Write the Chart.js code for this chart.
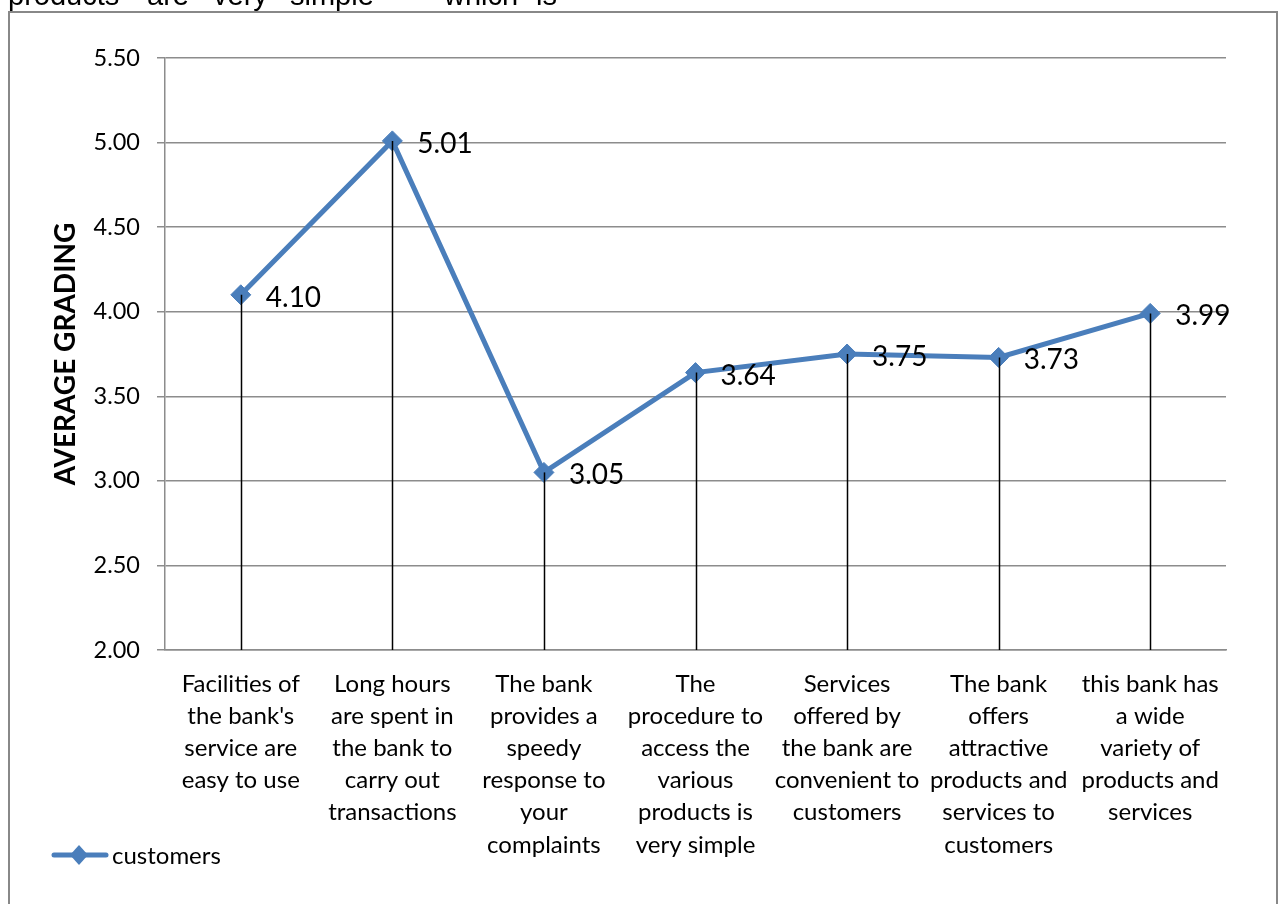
<!DOCTYPE html>
<html>
<head>
<meta charset="utf-8">
<script src="https://cdn.jsdelivr.net/npm/chart.js@4"></script>
<style>
    html, body { margin: 0; padding: 0; background: #fff; }
    #wrap { position: relative; width: 1279px; height: 904px; }
</style>
</head>
<body>
<div id="wrap"><canvas id="chart"></canvas></div>
<script>
const categories = [
    ["Facilities of", "the bank's", "service are", "easy to use"],
    ["Long hours", "are spent in", "the bank to", "carry out", "transactions"],
    ["The bank", "provides a", "speedy", "response to", "your", "complaints"],
    ["The", "procedure to", "access the", "various", "products is", "very simple"],
    ["Services", "offered by", "the bank are", "convenient to", "customers"],
    ["The bank", "offers", "attractive", "products and", "services to", "customers"],
    ["this bank has", "a wide", "variety of", "products and", "services"]
];
const customers = [4.10, 5.01, 3.05, 3.64, 3.75, 3.73, 3.99];
const seriesName = "customers";
const yTitle = "AVERAGE GRADING";
// justified body text line running above the chart box
const headerWords = ["products", "are", "very", "simple", "which", "is"];
const headerX = [8, 147, 213, 290, 444, 536];

const FONT = "Lato, 'Open Sans', sans-serif";
const BLUE = "#4a7ebb";
const GRID = "#8c8c8c";

// frame, header text, axis title, drop lines, value labels, legend
const extras = {
    id: "extras",
    afterDatasetsDraw(chart) {
        const ctx = chart.ctx;
        const area = chart.chartArea;
        const meta = chart.getDatasetMeta(0);
        ctx.save();

        // drop lines from each point to the category axis
        ctx.strokeStyle = "#000";
        ctx.lineWidth = 1.5;
        meta.data.forEach(p => {
            ctx.beginPath();
            ctx.moveTo(Math.round(p.x) + 0.5, p.y);
            ctx.lineTo(Math.round(p.x) + 0.5, area.bottom);
            ctx.stroke();
        });

        // value labels
        ctx.fillStyle = "#000";
        ctx.font = "28px " + FONT;
        ctx.textAlign = "left";
        ctx.textBaseline = "middle";
        meta.data.forEach((p, i) => {
            ctx.fillText(customers[i].toFixed(2), p.x + 25, p.y + 3);
        });

        ctx.restore();
    },
    afterDraw(chart) {
        const ctx = chart.ctx;
        ctx.save();

        // outer frame
        ctx.strokeStyle = "#888";
        ctx.lineWidth = 2;
        ctx.beginPath();
        ctx.moveTo(9, 904);
        ctx.lineTo(9, 12);
        ctx.lineTo(1277, 12);
        ctx.lineTo(1277, 904);
        ctx.stroke();

        // running text above the frame
        ctx.fillStyle = "#000";
        ctx.font = "29px 'Liberation Sans', Arial, sans-serif";
        ctx.textAlign = "left";
        ctx.textBaseline = "alphabetic";
        headerWords.forEach((w, i) => ctx.fillText(w, headerX[i], 5));

        // y axis title
        ctx.font = "bold 28px " + FONT;
        ctx.textAlign = "center";
        ctx.textBaseline = "middle";
        ctx.translate(66, 354);
        ctx.rotate(-Math.PI / 2);
        ctx.fillText(yTitle, 0, 0);
        ctx.setTransform(1, 0, 0, 1, 0, 0);

        // legend
        const ly = 855;
        ctx.strokeStyle = BLUE;
        ctx.lineWidth = 5;
        ctx.lineCap = "round";
        ctx.beginPath();
        ctx.moveTo(54, ly);
        ctx.lineTo(106, ly);
        ctx.stroke();
        ctx.fillStyle = BLUE;
        ctx.beginPath();
        ctx.moveTo(79, ly - 10);
        ctx.lineTo(88, ly);
        ctx.lineTo(79, ly + 10);
        ctx.lineTo(70, ly);
        ctx.closePath();
        ctx.fill();
        ctx.fillStyle = "#000";
        ctx.font = "24px " + FONT;
        ctx.textAlign = "left";
        ctx.fillText(seriesName, 112, ly + 1);

        ctx.restore();
    }
};

new Chart(document.getElementById("chart"), {
    type: "line",
    data: {
        labels: categories,
        datasets: [{
            label: seriesName,
            data: customers,
            borderColor: BLUE,
            backgroundColor: BLUE,
            borderWidth: 5,
            pointStyle: "rectRot",
            pointRadius: 10,
            pointHoverRadius: 10,
            pointBorderWidth: 1,
            pointBackgroundColor: BLUE,
            pointBorderColor: BLUE,
            tension: 0
        }]
    },
    options: {
        responsive: true,
        maintainAspectRatio: false,
        animation: false,
        events: [],
        layout: { padding: { left: 9, top: 58, right: 53, bottom: 0 } },
        plugins: {
            legend: { display: false },
            tooltip: { enabled: false }
        },
        scales: {
            x: {
                offset: true,
                afterFit(scale) { scale.height = 254; },
                grid: { display: false, drawTicks: false },
                border: { display: true, color: GRID, width: 1.5 },
                ticks: {
                    autoSkip: false,
                    maxRotation: 0,
                    minRotation: 0,
                    padding: 18,
                    color: "#000",
                    font: { family: FONT, size: 24, lineHeight: 1.34 }
                }
            },
            y: {
                min: 2,
                max: 5.5,
                afterFit(scale) { scale.width = 156; },
                grid: { color: GRID, lineWidth: 1.5, tickLength: 8, drawTicks: true },
                border: { display: true, color: GRID, width: 1.5 },
                ticks: {
                    stepSize: 0.5,
                    padding: 17,
                    color: "#000",
                    font: { family: FONT, size: 23.5 },
                    callback: v => v.toFixed(2)
                }
            }
        }
    },
    plugins: [extras]
});
</script>
</body>
</html>
